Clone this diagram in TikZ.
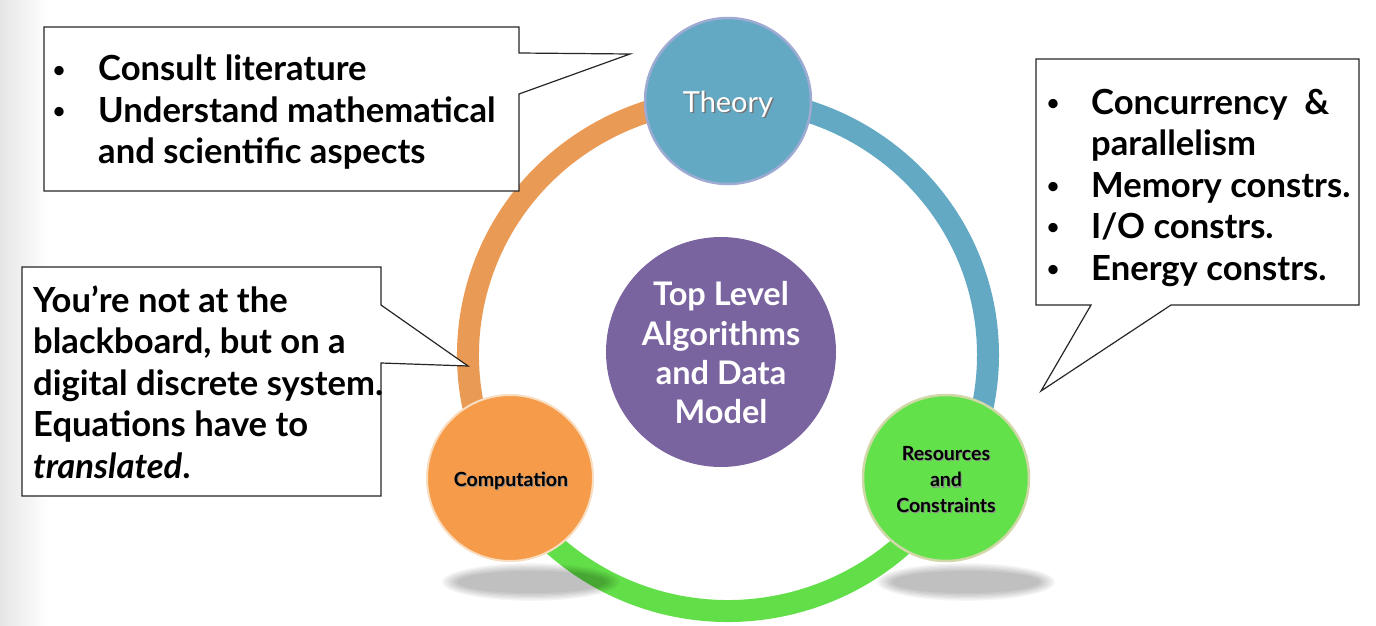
\documentclass[tikz,border=0pt]{standalone}
\usepackage{fontspec}
\setmainfont{Lato}
\usetikzlibrary{calc}
\definecolor{ringorange}{HTML}{E99B56}
\definecolor{ringblue}{HTML}{64A9C4}
\definecolor{ringgreen}{HTML}{62DF48}
\definecolor{theoryfill}{HTML}{64A9C3}
\definecolor{theoryedge}{HTML}{9DAAD2}
\definecolor{compfill}{HTML}{F69B4A}
\definecolor{compedge}{HTML}{F9DDC0}
\definecolor{resfill}{HTML}{62E14A}
\definecolor{resedge}{HTML}{D0D8A8}
\definecolor{corefill}{HTML}{7A64A0}
\begin{document}
\begin{tikzpicture}[x=1pt,y=-1pt,
  ringarc/.style={line width=22pt},
  callout/.style={draw=black!85, fill=white, line width=1.2pt, line join=miter},
  cline/.style={anchor=base west, inner sep=0pt, font=\fontsize{34.6}{41}\selectfont\bfseries},
  bul/.style={anchor=base, inner sep=0pt, font=\fontsize{25}{30}\selectfont},
  bigcirc/.style={circle, minimum size=166pt, inner sep=0pt},
  smalltxt/.style={anchor=base, inner sep=0pt, font=\fontsize{19.5}{25}\selectfont\bfseries},
  smallsh/.style={anchor=base, inner sep=0pt, text=black!45, font=\fontsize{19.5}{25}\selectfont\bfseries},
  coretxt/.style={anchor=base, inner sep=0pt, text=white, font=\fontsize{32.5}{39}\selectfont\bfseries}]
\useasboundingbox (0,0) rectangle (1376,626);
% left page gradient
\shade[left color=black!10, right color=white] (0,0) rectangle (48,626);

% ring
\coordinate (rc) at (728,355);
\draw[ringarc, ringorange] ($(rc)+(150.6:260 and 256)$) arc[start angle=150.6, end angle=270, x radius=260, y radius=256];
\draw[ringarc, ringblue] ($(rc)+(-90:260 and 256)$) arc[start angle=-90, end angle=29.4, x radius=260, y radius=256];
\draw[ringarc, ringgreen] ($(rc)+(29.4:260 and 256)$) arc[start angle=29.4, end angle=150.6, x radius=260, y radius=256];

% shadows
\foreach \i in {0,...,6}{
  \fill[black, opacity=0.04] (531,582) ellipse [x radius={74+2.5*\i}, y radius={11+1.3*\i}];
  \fill[black, opacity=0.04] (966,582) ellipse [x radius={74+2.5*\i}, y radius={11+1.3*\i}];
}

% circles
\node[bigcirc, fill=corefill, minimum size=230pt] (core) at (721,352) {};
\node[coretxt] (core1) at (721,305) {Top Level};
\node[coretxt] (core2) at (721,345) {Algorithms};
\node[coretxt] (core3) at (721,384.5) {and Data};
\node[coretxt] (core4) at (721,423) {Model};

\node[bigcirc, fill=theoryfill, draw=theoryedge, line width=2.5pt] (theory) at (728,101) {};
\node[anchor=base, inner sep=0pt, text=black!55, font=\fontsize{29}{34}\selectfont] (thsh) at (729.5,113.5) {Theory};
\node[anchor=base, inner sep=0pt, text=white, font=\fontsize{29}{34}\selectfont] (thtxt) at (728,112) {Theory};

\node[bigcirc, fill=compfill, draw=compedge, line width=2pt] (comp) at (510,478) {};
\node[smallsh] (compsh) at (512,487.5) {Computation};
\node[smalltxt] (comptxt) at (511,486) {Computation};

\node[bigcirc, fill=resfill, draw=resedge, line width=2.5pt] (res) at (946,478) {};
\node[smallsh] (res1s) at (947,461.5) {Resources};
\node[smallsh] (res2s) at (947,488) {and};
\node[smallsh] (res3s) at (947,513.5) {Constraints};
\node[smalltxt] (res1) at (946,460) {Resources};
\node[smalltxt] (res2) at (946,486.5) {and};
\node[smalltxt] (res3) at (946,512) {Constraints};

% callout 1
\coordinate (tip1) at (630,54);
\draw[callout] (44,27) -- (519,27) -- (519,53) -- (tip1) -- (519,94) -- (519,191) -- (44,191) -- cycle;
\node[bul] (b11) at (59,78) {\textbullet};
\node[cline] (t11) at (98,81) {Consult literature};
\node[bul] (b12) at (59,119) {\textbullet};
\node[cline] (t12) at (98,122) {Understand mathematical};
\node[cline] (t13) at (98,163) {and scientific aspects};

% callout 2
\coordinate (tip2) at (468,366);
\draw[callout] (22,267) -- (381,267) -- (381,305) -- (tip2) -- (381,363) -- (381,496) -- (22,496) -- cycle;
\node[cline] (t21) at (33,312) {You’re not at the};
\node[cline] (t22) at (33,353.5) {blackboard, but on a};
\node[cline] (t23) at (33,395) {digital discrete system.};
\node[cline] (t24) at (33,436.5) {Equations have to};
\node[cline] (t25) at (33,478) {\itshape translated\upshape.};

% callout 3
\coordinate (tip3) at (1041,391);
\draw[callout] (1036,59) -- (1359,59) -- (1359,305) -- (1171,305) -- (tip3) -- (1091,305) -- (1036,305) -- cycle;
\node[bul] (b31) at (1053,111) {\textbullet};
\node[cline] (t31) at (1091,114) {Concurrency\ \ \&};
\node[cline] (t32) at (1091,155.5) {parallelism};
\node[bul] (b33) at (1053,194) {\textbullet};
\node[cline] (t33) at (1091,197) {Memory constrs.};
\node[bul] (b34) at (1053,235.5) {\textbullet};
\node[cline] (t34) at (1091,238.5) {I/O constrs.};
\node[bul] (b35) at (1053,277) {\textbullet};
\node[cline] (t35) at (1091,280) {Energy constrs.};
\end{tikzpicture}
\end{document}
